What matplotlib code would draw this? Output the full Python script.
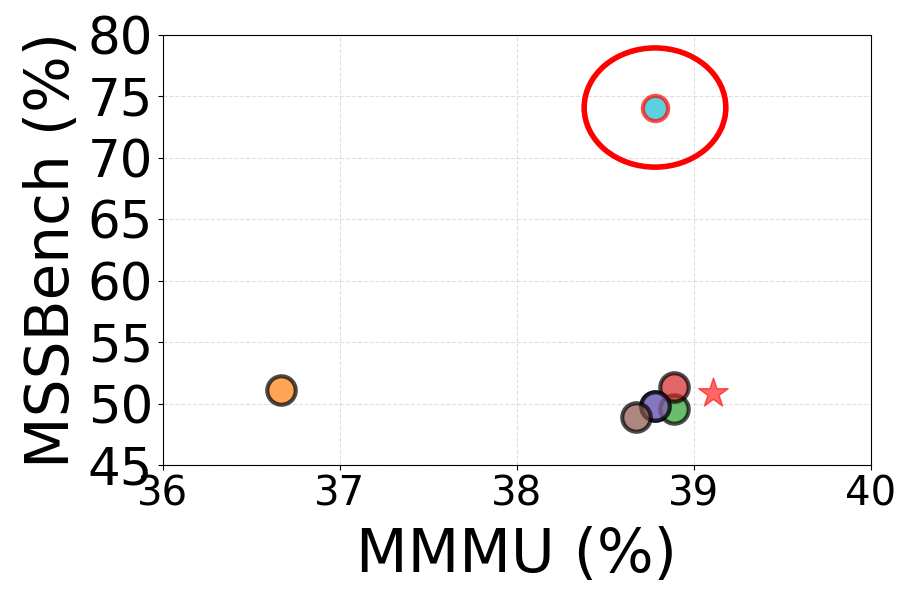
import matplotlib
matplotlib.use('Agg')
import matplotlib.pyplot as plt
from matplotlib.patches import Ellipse

# MMMU vs MSSBench scores (blue and purple points sit on top of each other)
mmmu = [38.78, 36.67, 38.89, 38.89, 38.78, 38.67]
mss = [49.8, 51.1, 49.55, 51.37, 49.8, 48.9]
colors = ['tab:blue', 'tab:orange', 'tab:green', 'tab:red', 'tab:purple', 'tab:brown']

ours_x, ours_y = 38.78, 74.1
star_x, star_y = 39.11, 50.85

fig = plt.figure(figsize=(9.14, 6.04), dpi=100)
ax = fig.add_axes([0.178, 0.230, 0.775, 0.712])

for x, y, c in zip(mmmu, mss, colors):
    ax.scatter(x, y, s=420, c=c, alpha=0.7, edgecolors='black', linewidths=3, zorder=3)

ax.scatter(ours_x, ours_y, s=330, c='tab:cyan', alpha=0.7, edgecolors='red',
           linewidths=3, zorder=3)
ax.scatter(star_x, star_y, s=500, c='red', marker='*', alpha=0.6, zorder=3)

ell = Ellipse((ours_x, ours_y), width=0.8, height=9.7, fill=False,
              edgecolor='red', linewidth=4, zorder=4)
ax.add_patch(ell)

ax.set_xlim(36, 40)
ax.set_ylim(45, 80)
ax.set_xticks([36, 37, 38, 39, 40])
ax.set_yticks(range(45, 81, 5))
ax.tick_params(axis='y', labelsize=37)
ax.tick_params(axis='x', labelsize=29)
ax.grid(True, linestyle='--', alpha=0.4)
ax.set_axisbelow(True)
ax.set_xlabel('MMMU (%)', fontsize=43, labelpad=8)
ax.set_ylabel('MSSBench (%)', fontsize=43)

plt.savefig('out.png', dpi=100)
